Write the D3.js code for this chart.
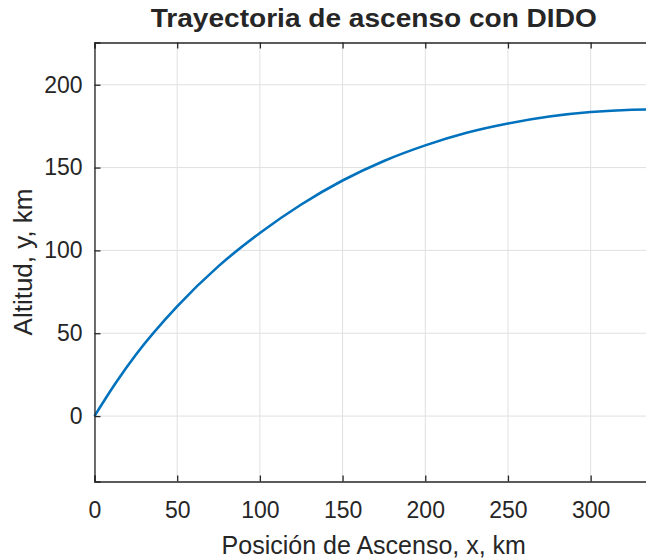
<!DOCTYPE html>
<html><head><meta charset="utf-8">
<script src="https://cdn.jsdelivr.net/npm/d3@7"></script>
<style>body{margin:0;background:#fff}svg{display:block}text{font-family:"Liberation Sans",Arial,sans-serif;fill:#262626}</style>
</head><body><svg id="c" width="646" height="560"></svg>
<script>
const xPos = [0, 12.5, 25, 50, 75, 100, 125, 150, 175, 200, 225, 250, 275, 300, 325, 338];
const altitude = [0, 19.5, 37, 66.2, 90.5, 110.5, 127.7, 142.2, 154, 163.4, 171, 176.6, 180.8, 183.5, 184.9, 185.1];
const xTicks = [0, 50, 100, 150, 200, 250, 300];
const yTicks = [0, 50, 100, 150, 200];
const titleText = "Trayectoria de ascenso con DIDO";
const xLabel = "Posición de Ascenso, x, km";
const yLabel = "Altitud, y, km";

const L = 94.5, R = 653, T = 42.5, B = 481.5;
const svg = d3.select("#c");
const x = d3.scaleLinear().domain([0, 337.7]).range([L, R]);
const y = d3.scaleLinear().domain([-39.5, 225.5]).range([B, T]);

// grid
const g = svg.append("g");
g.selectAll(".gx").data(xTicks).join("line")
  .attr("x1", d => x(d)).attr("x2", d => x(d)).attr("y1", T).attr("y2", B)
  .attr("stroke", "#e0e0e0").attr("stroke-width", 1);
g.selectAll(".gy").data(yTicks).join("line")
  .attr("y1", d => y(d)).attr("y2", d => y(d)).attr("x1", L).attr("x2", R)
  .attr("stroke", "#e0e0e0").attr("stroke-width", 1);

// curve
const line = d3.line().x((d, i) => x(xPos[i])).y(d => y(d)).curve(d3.curveMonotoneX);
svg.append("path").datum(altitude).attr("d", line)
  .attr("fill", "none").attr("stroke", "#0072BD").attr("stroke-width", 2.6);

// axes
const fs = 23;
const xAxis = d3.axisBottom(x).tickValues(xTicks).tickSize(-6).tickPadding(20).tickFormat(d3.format("d"));
const xa = svg.append("g").attr("transform", `translate(0,${B})`).call(xAxis);
const xt = svg.append("g").attr("transform", `translate(0,${T})`).call(d3.axisTop(x).tickValues(xTicks).tickSize(-6).tickFormat(""));
const yAxis = d3.axisLeft(y).tickValues(yTicks).tickSize(-6).tickPadding(12).tickFormat(d3.format("d"));
const ya = svg.append("g").attr("transform", `translate(${L},0)`).call(yAxis);
[xa, xt, ya].forEach(a => {
  a.select(".domain").attr("stroke", "#262626").attr("stroke-width", 1.3);
  a.selectAll(".tick line").attr("stroke", "#262626").attr("stroke-width", 1.3);
  a.selectAll("text").attr("font-size", fs).attr("fill", "#262626").attr("font-family", '"Liberation Sans",Arial,sans-serif');
});

svg.append("text").attr("x", (L + R) / 2).attr("y", 27).attr("text-anchor", "middle")
  .attr("font-size", 25.5).attr("font-weight", "bold").attr("fill", "#000")
  .attr("textLength", 446).attr("lengthAdjust", "spacingAndGlyphs").text(titleText);
svg.append("text").attr("x", (L + R) / 2).attr("y", 554).attr("text-anchor", "middle")
  .attr("font-size", 25).text(xLabel);
svg.append("text").attr("transform", `translate(32,${(T + B) / 2}) rotate(-90)`).attr("text-anchor", "middle")
  .attr("font-size", 26).text(yLabel);
</script></body></html>
